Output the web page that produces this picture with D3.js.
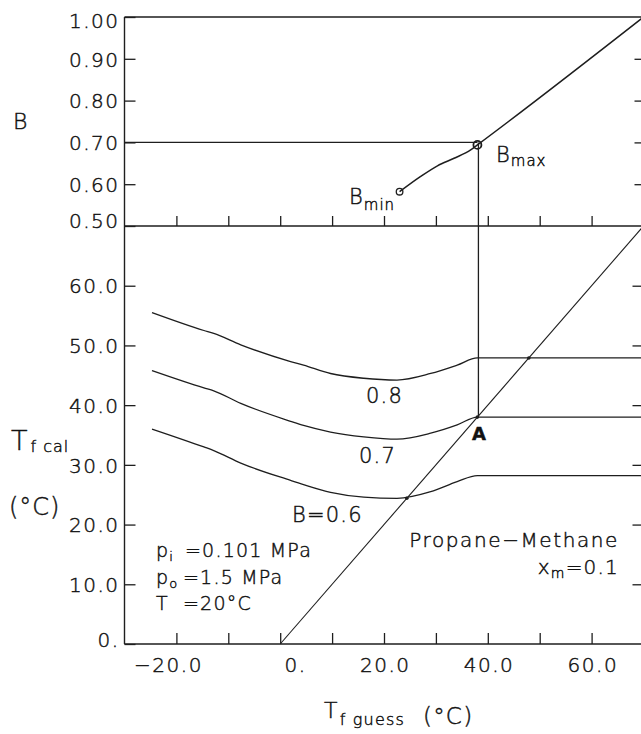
<!DOCTYPE html>
<html><head><meta charset="utf-8">
<script src="https://cdn.jsdelivr.net/npm/d3@7"></script>
<style>
body{margin:0;background:#fff;}
svg text{font-family:"DejaVu Sans",sans-serif;fill:#111;font-weight:300;stroke:#111;stroke-width:0.45px;}
</style></head><body>
<svg id="c" width="641" height="734"></svg>
<script>
// ---- data ----
const xTicks = [-20,-10,0,10,20,30,40,50,60];
const xTickLabels = [-20,0,20,40,60];
const bTicks = [0.5,0.6,0.7,0.8,0.9,1.0];
const tTicks = [0,10,20,30,40,50,60];
const bCurveX = [23.0,27.0,30.3,33.5,36.7,38.0,70];
const bCurveY = [0.582,0.618,0.644,0.662,0.682,0.694,1.0];
const bMin = [23.0,0.582];
const bMax = [38.0,0.694];
const curveX = [-24.7,-14.7,-12.8,-7.6,2.0,4.5,9.7,16.1,22.5,29.0,34.1,38.0,70];
const curve08 = [55.5,52.5,52.0,50.1,47.3,46.7,45.3,44.5,44.2,45.3,46.7,47.9,47.9];
const curve07 = [45.8,42.9,42.4,40.3,37.3,36.6,35.5,34.7,34.3,35.3,36.7,38.0,38.0];
const curve06 = [36.0,33.0,32.4,30.3,27.4,26.7,25.4,24.6,24.4,25.5,27.2,28.2,28.2];
const diagX = [0,70];
const crossX = [24.4,38.0,47.9];
const pointA = [38.0,38.0];
const bGuide = 0.70;

// ---- scales ----
const W=641,H=734;
const x = d3.scaleLinear().domain([-30,70]).range([124.5,643.5]);
const yB = d3.scaleLinear().domain([0.5,1.0]).range([226,17]);
const yT = d3.scaleLinear().domain([0,70]).range([644,226]);
const ink = "#1e1e1e";
const svg = d3.select("#c");
svg.append("rect").attr("width",W).attr("height",H).attr("fill","#fff");

// ---- frame ----
const frame = svg.append("g").attr("stroke",ink).attr("stroke-width",1.4).attr("fill","none");
[[x(-30),yB(1),x(70),yB(1)],[x(-30),yB(0.5),x(70),yB(0.5)],[x(-30),yT(0),x(70),yT(0)],
 [x(-30),yB(1),x(-30),yT(0)],[x(70),yB(1),x(70),yT(0)]].forEach(s=>
  frame.append("line").attr("x1",s[0]).attr("y1",s[1]).attr("x2",s[2]).attr("y2",s[3]));

function styleAxis(g, size){
  g.select(".domain").remove();
  g.selectAll(".tick line").attr("stroke",ink).attr("stroke-width",1.3);
  g.selectAll("text").attr("font-size",size).attr("font-family","DejaVu Sans")
    .attr("fill","#111").attr("font-weight",300).attr("letter-spacing",1.5);
}
// left axes
const gL1 = svg.append("g").attr("transform",`translate(${x(-30)},0)`)
  .call(d3.axisLeft(yB).tickValues(bTicks).tickSize(-11).tickPadding(5).tickFormat(d3.format(".2f")));
styleAxis(gL1,20);
gL1.selectAll(".tick text").attr("dy",d=> d===1.0?"0.5em":(d===0.5?"0.05em":"0.36em"));
const gL2 = svg.append("g").attr("transform",`translate(${x(-30)},0)`)
  .call(d3.axisLeft(yT).tickValues(tTicks).tickSize(-11).tickPadding(5)
  .tickFormat(d=> d===0?"0.":d.toFixed(1)));
styleAxis(gL2,20);
gL2.selectAll(".tick text").attr("dy",d=> d===0?"0.1em":"0.36em");
// right ticks
const gR1 = svg.append("g").attr("transform",`translate(${x(70)},0)`)
  .call(d3.axisLeft(yB).tickValues([0.6,0.7,0.8,0.9]).tickSize(9).tickFormat(""));
styleAxis(gR1,20);
const gR2 = svg.append("g").attr("transform",`translate(${x(70)},0)`)
  .call(d3.axisLeft(yT).tickValues(tTicks.filter(d=>d>0)).tickSize(11).tickFormat(""));
styleAxis(gR2,20);
// bottom axes
const fmtX = d => d===0 ? "0." : (d<0?"\u2212":"")+Math.abs(d).toFixed(1);
const gB1 = svg.append("g").attr("transform",`translate(0,${yB(0.5)})`)
  .call(d3.axisBottom(x).tickValues(xTicks).tickSize(-10).tickFormat(""));
styleAxis(gB1,20);
const gB2 = svg.append("g").attr("transform",`translate(0,${yT(0)})`)
  .call(d3.axisBottom(x).tickValues(xTicks).tickSize(-11)
  .tickFormat(d=> xTickLabels.includes(d)? fmtX(d):""));
styleAxis(gB2,20);
gB2.selectAll(".tick text").attr("text-anchor","end").attr("x",26).attr("y",28).attr("dy",0);

// ---- lines ----
const lineG = svg.append("g").attr("fill","none").attr("stroke",ink).attr("stroke-width",1.3);
lineG.append("line").attr("x1",x(-30)).attr("x2",x(bMax[0])).attr("y1",yB(bGuide)).attr("y2",yB(bGuide));
lineG.append("line").attr("x1",x(bMax[0])+1).attr("x2",x(bMax[0])+1).attr("y1",yB(bGuide)).attr("y2",yT(pointA[1]));
lineG.append("path").attr("d",d3.line().x(d=>x(d)).y(d=>yT(d))(diagX)).attr("stroke-width",1.1);
lineG.append("path").attr("d",d3.line().x((d,i)=>x(bCurveX[i])).y(d=>yB(d)).curve(d3.curveMonotoneX)(bCurveY)).attr("stroke-width",1.5);
const tLine = d3.line().x((d,i)=>x(curveX[i])).y(d=>yT(d)).curve(d3.curveMonotoneX);
[curve08,curve07,curve06].forEach(c=> lineG.append("path").attr("d",tLine(c)));
svg.append("circle").attr("cx",x(bMin[0])).attr("cy",yB(bMin[1])).attr("r",3.3)
  .attr("fill","none").attr("stroke",ink).attr("stroke-width",1.3);
svg.append("circle").attr("cx",x(bMax[0])).attr("cy",yB(bMax[1])).attr("r",4)
  .attr("fill","none").attr("stroke",ink).attr("stroke-width",1.8);
crossX.forEach(v=> svg.append("circle").attr("cx",x(v)).attr("cy",yT(v)).attr("r",1.8).attr("fill",ink));

// ---- text ----
function label(px,py,parts,size,ls){
  const t = svg.append("text").attr("x",px).attr("y",py).attr("font-size",size)
    .attr("letter-spacing", ls==null?1.2:ls);
  parts.forEach(p=>{
    const s = t.append("tspan").text(p.t);
    if(p.size) s.attr("font-size",p.size);
    if(p.dy) s.attr("dy",p.dy);
    if(p.dx) s.attr("dx",p.dx);
    if(p.x!=null) s.attr("x",p.x);
    if(p.w) s.attr("font-weight",p.w);
  });
  return t;
}
// axis titles
label(13,129,[{t:"B"}],22);
label(11,450,[{t:"T"},{t:"f cal",size:16,dy:2,dx:2}],27,1);
label(9,515,[{t:"(°C)"}],24,1);
label(324,718,[{t:"T"},{t:"f guess",size:16,dy:7,dx:1},{t:"(°C)",size:23,dy:-1,x:423}],22,1.2);
// top panel labels
label(349,204,[{t:"B"},{t:"min",size:15,dy:6}],21,1);
label(496,162,[{t:"B"},{t:"max",size:15,dy:4}],21,1);
// curve labels
label(366,403,[{t:"0.8"}],21);
label(359,463,[{t:"0.7"}],21);
label(292,522,[{t:"B=0.6"}],21);
label(472,440,[{t:"A",w:"bold"}],18,0).attr("stroke-width",0.2);
// conditions
label(156,557,[{t:"p"},{t:"i",size:13,dy:4},{t:"=0.101  MPa",size:19,dy:-4,x:185}],19);
label(156,584,[{t:"p"},{t:"o",size:13,dy:4},{t:"=1.5  MPa",size:19,dy:-4,x:183}],19);
label(156,610,[{t:"T"},{t:"=20°C",x:183}],19);
label(619,547,[{t:"Propane\u2212Methane"}],20,1.6).attr("text-anchor","end");
label(619,574,[{t:"x"},{t:"m",size:14,dy:4},{t:"=0.1",size:20,dy:-4}],20).attr("text-anchor","end");
</script></body></html>
